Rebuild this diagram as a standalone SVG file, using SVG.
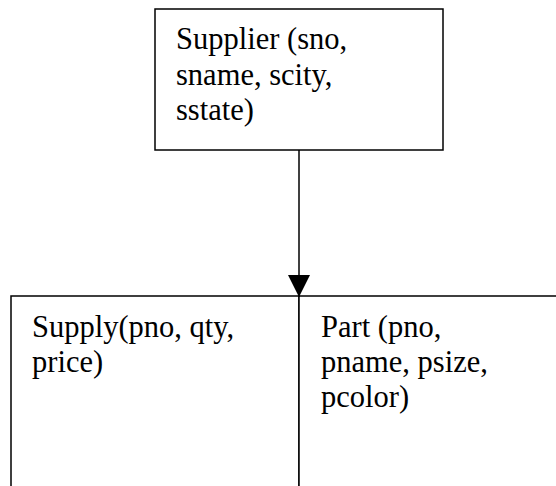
<svg xmlns="http://www.w3.org/2000/svg" width="556" height="486" viewBox="0 0 556 486">
  <defs>
    <style>
      .box { fill: #ffffff; stroke: #000000; stroke-width: 1.5; }
      .lbl { font-family: "Liberation Serif", "Times New Roman", serif; font-size: 30.5px; fill: #000000; }
      .conn { stroke: #000000; stroke-width: 1.5; fill: none; }
    </style>
    <marker id="arrow" markerUnits="userSpaceOnUse" markerWidth="22" markerHeight="22" viewBox="0 0 21 21" refX="21" refY="10.5" orient="auto">
      <path d="M0,0 L21,10.5 L0,21 Z" fill="#000000"/>
    </marker>
  </defs>
  <rect width="556" height="486" fill="#ffffff"/>
  <g id="supplier">
    <rect class="box" x="155" y="9" width="288" height="141"/>
    <text class="lbl" x="176" y="49">Supplier (sno,</text>
    <text class="lbl" x="176" y="84.5">sname, scity,</text>
    <text class="lbl" x="176" y="120">sstate)</text>
  </g>
  <g id="supply">
    <rect class="box" x="11" y="296" width="288" height="220"/>
    <text class="lbl" x="32" y="337">Supply(pno, qty,</text>
    <text class="lbl" x="32" y="372">price)</text>
  </g>
  <g id="part">
    <rect class="box" x="299" y="296" width="288" height="220"/>
    <text class="lbl" x="321" y="337">Part (pno,</text>
    <text class="lbl" x="321" y="372">pname, psize,</text>
    <text class="lbl" x="321" y="407">pcolor)</text>
  </g>
  <g id="connectors">
    <line class="conn" x1="299" y1="150" x2="299" y2="297" marker-end="url(#arrow)"/>
  </g>
</svg>
